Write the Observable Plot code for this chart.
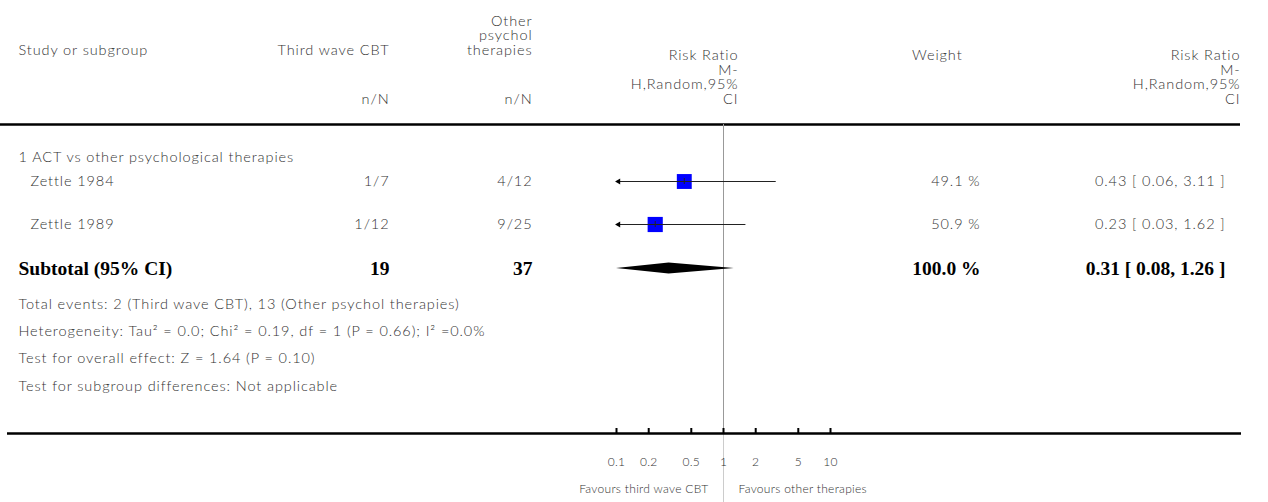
<!DOCTYPE html>
<html><head><meta charset="utf-8">
<script src="https://cdn.jsdelivr.net/npm/d3@7"></script>
<script src="https://cdn.jsdelivr.net/npm/@observablehq/plot@0.6"></script>
<style>body{margin:0;background:#fff} .ls text, text.ls{letter-spacing:0.9px} .ls2 text, text.ls2{letter-spacing:0.3px}</style>
</head><body><div id="chart"></div>
<script>
// ---- data ----
const groupTitle = "1 ACT vs other psychological therapies";
const studies = ["Zettle 1984", "Zettle 1989"];
const eventsCBT = ["1/7", "1/12"];
const eventsOther = ["4/12", "9/25"];
const rr = [0.43, 0.23];
const lower = [0.06, 0.03];
const upper = [3.11, 1.62];
const weights = [49.1, 50.9];
const subtotalLabel = "Subtotal (95% CI)";
const subtotalN = [19, 37];
const subtotalWeight = 100.0;
const subtotalRR = [0.31, 0.08, 1.26];
const footnotes = [
  "Total events: 2 (Third wave CBT), 13 (Other psychol therapies)",
  "Heterogeneity: Tau\u00B2 = 0.0; Chi\u00B2 = 0.19, df = 1 (P = 0.66); I\u00B2 =0.0%",
  "Test for overall effect: Z = 1.64 (P = 0.10)",
  "Test for subgroup differences: Not applicable"
];
const tickValues = [0.1, 0.2, 0.5, 1, 2, 5, 10];
const tickLabels = ["0.1", "0.2", "0.5", "1", "2", "5", "10"];
const favours = ["Favours third wave CBT", "Favours other therapies"];

// ---- layout ----
const headY = 124, axisY = 433;
const groupY = 157;
const rowY = [181, 224];
const subY = 268;
const footY = [304, 331, 358, 386];
const colCBT = 389, colOther = 532, colWeight = 980, colCI = 1225;
const xMin = 0.1, xMax = 10;
const idx = studies.map((d, i) => i);
const fmt2 = v => v.toFixed(2);
const ciText = (e, l, u) => `${fmt2(e)} [ ${fmt2(l)}, ${fmt2(u)} ]`;
const ink = "#333";
const fs = 14.5;

const diamond = [
  {x: Math.max(subtotalRR[1], xMin), y1: subY, y2: subY},
  {x: subtotalRR[0], y1: subY - 5.5, y2: subY + 5.5},
  {x: Math.min(subtotalRR[2], xMax), y1: subY, y2: subY}
];

const txt = (data, o) => Plot.text(data, {frameAnchor: "left", fill: ink, fontSize: fs, fontWeight: 300, lineHeight: 1.0, className: "ls", ...o});
const bold = (data, o) => Plot.text(data, {frameAnchor: "left", fill: "#000", fontSize: 19.5, fontWeight: "bold", fontFamily: "'Liberation Serif', 'Times New Roman', serif", y: subY, ...o});
const small = (data, o) => Plot.text(data, {fill: ink, fontSize: 12, fontWeight: 300, className: "ls2", ...o});

const chart = Plot.plot({
  width: 1268, height: 502, margin: 0,
  x: {type: "log", domain: [xMin, xMax], range: [616, 830], axis: null},
  y: {type: "identity", axis: null},
  r: {type: "sqrt", domain: [0, 100], range: [0, 12]},
  style: {fontFamily: "Lato, 'Open Sans', sans-serif", background: "#fff"},
  marks: [
    // header
    txt(["Study or subgroup"], {y: 50, dx: 18, textAnchor: "start"}),
    txt(["Third wave CBT"], {y: 50, dx: colCBT, textAnchor: "end"}),
    txt(["Other\npsychol\ntherapies"], {y: 35, dx: colOther, textAnchor: "end", lineAnchor: "middle"}),
    txt(["n/N"], {y: 99, dx: colCBT, textAnchor: "end"}),
    txt(["n/N"], {y: 99, dx: colOther, textAnchor: "end"}),
    txt(["Risk Ratio\nM-\nH,Random,95%\nCI"], {y: 77, dx: 738, textAnchor: "end", lineAnchor: "middle"}),
    txt(["Weight"], {y: 55, dx: 962, textAnchor: "end"}),
    txt(["Risk Ratio\nM-\nH,Random,95%\nCI"], {y: 77, dx: 1240, textAnchor: "end", lineAnchor: "middle"}),
    Plot.ruleY([headY], {stroke: "#000", strokeWidth: 2.5, insetRight: 28}),
    // reference line at RR = 1
    Plot.ruleX([1], {y1: headY, y2: axisY, stroke: "#999", strokeWidth: 1}),
    Plot.ruleX([1], {y1: axisY, y2: 502, stroke: "#ccc", strokeWidth: 1}),
    // group
    txt([groupTitle], {y: groupY, dx: 18, textAnchor: "start"}),
    // studies
    txt(studies, {y: rowY, dx: 30, textAnchor: "start"}),
    txt(eventsCBT, {y: rowY, dx: colCBT, textAnchor: "end"}),
    txt(eventsOther, {y: rowY, dx: colOther, textAnchor: "end"}),
    txt(weights.map(w => w.toFixed(1) + " %"), {y: rowY, dx: colWeight, textAnchor: "end"}),
    txt(idx.map(i => ciText(rr[i], lower[i], upper[i])), {y: rowY, dx: colCI, textAnchor: "end"}),
    Plot.dot(idx, {x: i => rr[i], y: i => rowY[i], r: i => weights[i], symbol: "square", fill: "#0000ff", stroke: null}),
    Plot.ruleY(idx, {x1: i => Math.max(lower[i], xMin), x2: i => Math.min(upper[i], xMax), y: i => rowY[i], stroke: "#222", strokeWidth: 1.2}),
    Plot.ruleX(idx, {x: i => rr[i], y1: i => rowY[i] - 3, y2: i => rowY[i] + 3, stroke: "#222", strokeWidth: 1}),
    Plot.dot(idx.filter(i => lower[i] < xMin), {x: xMin, y: i => rowY[i], symbol: "triangle", r: 2.2, rotate: -90, fill: "#000", stroke: null, dx: 2}),
    Plot.dot(idx.filter(i => upper[i] > xMax), {x: xMax, y: i => rowY[i], symbol: "triangle", r: 2.2, rotate: 90, fill: "#000", stroke: null, dx: -2}),
    // subtotal
    bold([subtotalLabel], {dx: 18, textAnchor: "start"}),
    bold([String(subtotalN[0])], {dx: colCBT, textAnchor: "end"}),
    bold([String(subtotalN[1])], {dx: colOther, textAnchor: "end"}),
    bold([subtotalWeight.toFixed(1) + " %"], {dx: colWeight, textAnchor: "end"}),
    bold([ciText(subtotalRR[0], subtotalRR[1], subtotalRR[2])], {dx: colCI, textAnchor: "end"}),
    Plot.area(diamond, {x1: "x", y1: "y1", y2: "y2", fill: "#000"}),
    // footnotes
    txt(footnotes, {y: footY, dx: 18, textAnchor: "start"}),
    // axis
    Plot.ruleY([axisY], {stroke: "#000", strokeWidth: 2.5, insetLeft: 7, insetRight: 27}),
    Plot.ruleX(tickValues, {y1: axisY - 5, y2: axisY, stroke: "#000", strokeWidth: 2}),
    small(tickValues, {x: d => d, y: 462, text: (d, i) => tickLabels[i]}),
    small([favours[0]], {x: 1, y: 489, dx: -15, textAnchor: "end"}),
    small([favours[1]], {x: 1, y: 489, dx: 15, textAnchor: "start"})
  ]
});
document.getElementById("chart").appendChild(chart);
</script>
</body></html>
